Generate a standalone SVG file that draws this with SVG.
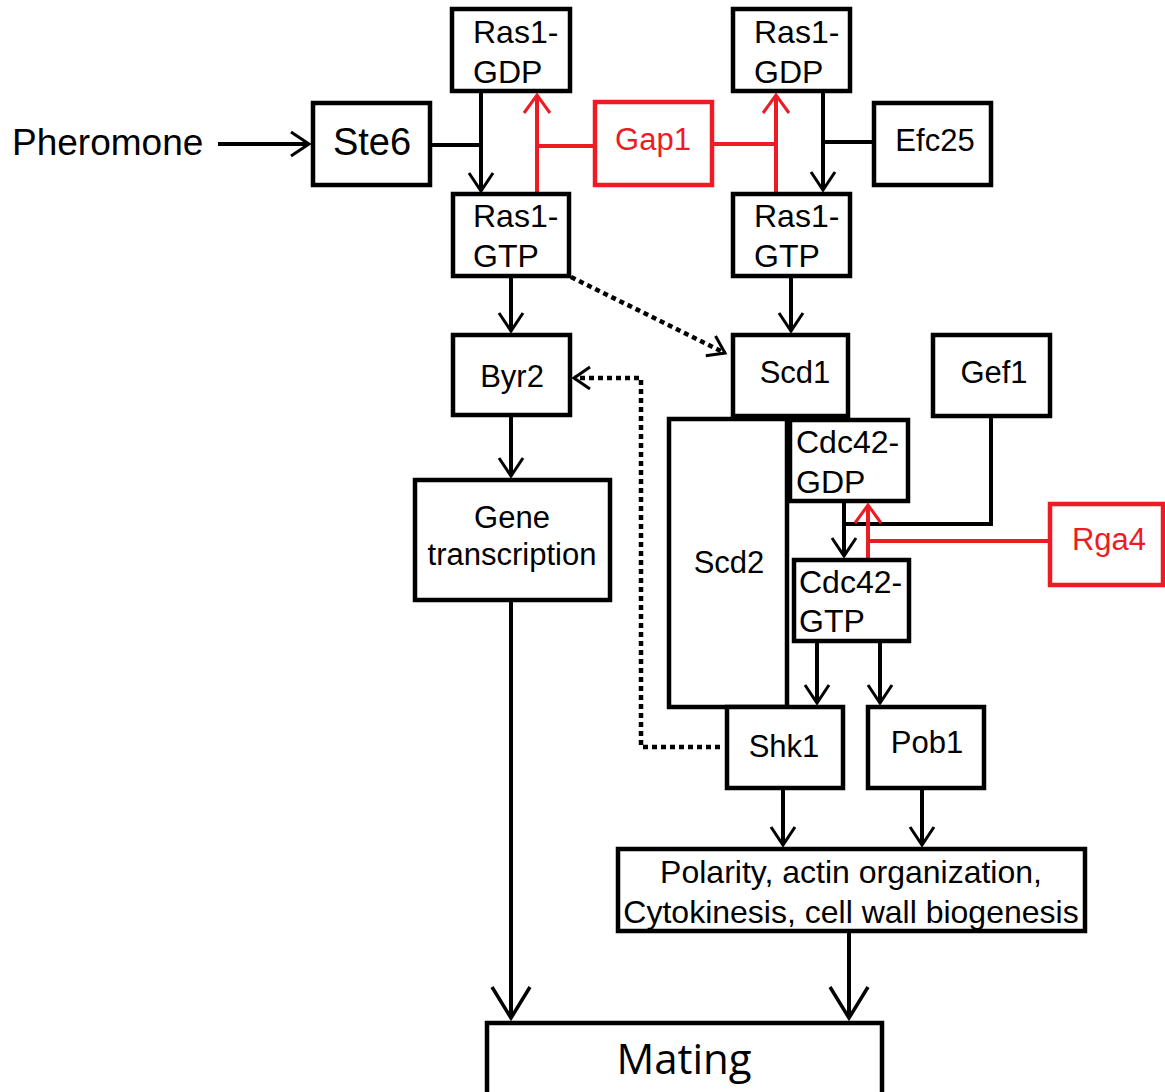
<svg xmlns="http://www.w3.org/2000/svg" width="1165" height="1092" viewBox="0 0 1165 1092">
<style>
  .box{fill:#fff;stroke:#000;stroke-width:4.5}
  .rbox{fill:#fff;stroke:#ED1C24;stroke-width:4.5}
  .t{font-family:"Liberation Sans",Arial,sans-serif;font-size:31px;fill:#000}
  .c{text-anchor:middle}
  .red{fill:#ED1C24}
  .ln{fill:none;stroke:#000;stroke-width:4}
  .rln{fill:none;stroke:#ED1C24;stroke-width:4}
  .dot{fill:none;stroke:#000;stroke-width:4.5;stroke-dasharray:5 4}
</style>
<defs>
  <marker id="ah" markerUnits="userSpaceOnUse" orient="auto" overflow="visible" refX="0" refY="0" markerWidth="20" markerHeight="30">
    <path d="M-18,-12 L0,0 L-18,12" fill="none" stroke="#000" stroke-width="3"/>
  </marker>
  <marker id="ahL" markerUnits="userSpaceOnUse" orient="auto" overflow="visible" refX="0" refY="0" markerWidth="34" markerHeight="40">
    <path d="M-31,-19 L0,0 L-31,19" fill="none" stroke="#000" stroke-width="3.5"/>
  </marker>
  <marker id="ahR" markerUnits="userSpaceOnUse" orient="auto" overflow="visible" refX="0" refY="0" markerWidth="20" markerHeight="30">
    <path d="M-18,-13 L0,0 L-18,13" fill="none" stroke="#ED1C24" stroke-width="3"/>
  </marker>
  <marker id="ahS" markerUnits="userSpaceOnUse" orient="auto" overflow="visible" refX="0" refY="0" markerWidth="20" markerHeight="30">
    <path d="M-16,-11 L0,0 L-16,11" fill="none" stroke="#000" stroke-width="3"/>
  </marker>
</defs>

<g id="connectors">
  <line class="ln" x1="218" y1="144" x2="309" y2="144" marker-end="url(#ah)"/>
  <line class="ln" x1="432" y1="145" x2="481" y2="145"/>
  <line class="ln" x1="481" y1="93" x2="481" y2="191" marker-end="url(#ah)"/>
  <line class="rln" x1="593" y1="146" x2="537" y2="146"/>
  <line class="rln" x1="537" y1="193" x2="537" y2="95" marker-end="url(#ahR)"/>
  <line class="rln" x1="714" y1="144" x2="776" y2="144"/>
  <line class="rln" x1="776" y1="193" x2="776" y2="95" marker-end="url(#ahR)"/>
  <line class="ln" x1="823" y1="93" x2="823" y2="190" marker-end="url(#ah)"/>
  <line class="ln" x1="872" y1="142" x2="823" y2="142"/>
  <line class="ln" x1="511" y1="277" x2="511" y2="331" marker-end="url(#ah)"/>
  <line class="dot" x1="571" y1="277" x2="725" y2="353" marker-end="url(#ahS)"/>
  <line class="ln" x1="791" y1="277" x2="791" y2="331" marker-end="url(#ah)"/>
  <line class="ln" x1="511" y1="417" x2="511" y2="476" marker-end="url(#ah)"/>
  <polyline class="dot" points="720,747 641,747 641,378 574,378" marker-end="url(#ahS)"/>
  <polyline class="ln" points="991,418 991,524 844,524"/>
  <line class="ln" x1="844" y1="503" x2="844" y2="556" marker-end="url(#ah)"/>
  <line class="rln" x1="1048" y1="541" x2="868" y2="541"/>
  <line class="rln" x1="868" y1="558" x2="868" y2="505" marker-end="url(#ahR)"/>
  <line class="ln" x1="817" y1="643" x2="817" y2="703" marker-end="url(#ah)"/>
  <line class="ln" x1="880" y1="643" x2="880" y2="703" marker-end="url(#ah)"/>
  <line class="ln" x1="783" y1="790" x2="783" y2="845" marker-end="url(#ah)"/>
  <line class="ln" x1="922" y1="790" x2="922" y2="845" marker-end="url(#ah)"/>
  <line class="ln" x1="849" y1="933" x2="849" y2="1018" marker-end="url(#ahL)"/>
  <line class="ln" x1="511" y1="602" x2="511" y2="1018" marker-end="url(#ahL)"/>
</g>

<g id="pheromone"><text class="t" x="12" y="155" style="font-size:37px">Pheromone</text></g>
<g id="ste6"><rect class="box" x="313" y="103" width="117" height="82"/><text class="t c" x="372" y="155" style="font-size:38px">Ste6</text></g>
<g id="ras1gdp-left"><rect class="box" x="452" y="9" width="118" height="82"/><text class="t" x="473" y="43" style="font-size:32px">Ras1-</text><text class="t" x="473" y="83" style="font-size:32px">GDP</text></g>
<g id="ras1gtp-left"><rect class="box" x="453" y="194" width="116" height="82"/><text class="t" x="473" y="227" style="font-size:32px">Ras1-</text><text class="t" x="473" y="267" style="font-size:32px">GTP</text></g>
<g id="gap1"><rect class="rbox" x="595" y="102" width="117" height="83"/><text class="t c red" x="653" y="150">Gap1</text></g>
<g id="ras1gdp-right"><rect class="box" x="733" y="9" width="117" height="82"/><text class="t" x="754" y="43" style="font-size:32px">Ras1-</text><text class="t" x="754" y="83" style="font-size:32px">GDP</text></g>
<g id="ras1gtp-right"><rect class="box" x="733" y="194" width="117" height="82"/><text class="t" x="754" y="227" style="font-size:32px">Ras1-</text><text class="t" x="754" y="267" style="font-size:32px">GTP</text></g>
<g id="efc25"><rect class="box" x="874" y="103" width="117" height="82"/><text class="t c" x="935" y="151">Efc25</text></g>
<g id="byr2"><rect class="box" x="453" y="335" width="117" height="80"/><text class="t c" x="512" y="387">Byr2</text></g>
<g id="scd1"><rect class="box" x="733" y="335" width="115" height="81"/><text class="t c" x="795" y="383">Scd1</text></g>
<g id="gef1"><rect class="box" x="933" y="335" width="117" height="81"/><text class="t c" x="994" y="383">Gef1</text></g>
<g id="gene-transcription"><rect class="box" x="415" y="480" width="195" height="120"/><text class="t c" x="512" y="528">Gene</text><text class="t c" x="512" y="565">transcription</text></g>
<g id="scd2"><rect class="box" x="669" y="419" width="118" height="288"/><text class="t c" x="729" y="573">Scd2</text></g>
<g id="cdc42gdp"><rect class="box" x="790" y="420" width="118" height="81"/><text class="t" x="796" y="453" style="font-size:32px">Cdc42-</text><text class="t" x="796" y="493" style="font-size:32px">GDP</text></g>
<g id="cdc42gtp"><rect class="box" x="794" y="560" width="115" height="81"/><text class="t" x="799" y="593" style="font-size:32px">Cdc42-</text><text class="t" x="799" y="632" style="font-size:32px">GTP</text></g>
<g id="rga4"><rect class="rbox" x="1050" y="504" width="113" height="81"/><text class="t c red" x="1109" y="550">Rga4</text></g>
<g id="shk1"><rect class="box" x="727" y="707" width="116" height="81"/><text class="t c" x="784" y="757">Shk1</text></g>
<g id="pob1"><rect class="box" x="868" y="707" width="116" height="81"/><text class="t c" x="927" y="753">Pob1</text></g>
<g id="polarity"><rect class="box" x="618" y="849" width="467" height="82"/><text class="t c" x="851" y="883" style="font-size:32px">Polarity, actin organization,</text><text class="t c" x="851" y="923" style="font-size:32px">Cytokinesis, cell wall biogenesis</text></g>
<g id="mating"><rect class="box" x="487" y="1023" width="395" height="80"/><text class="c" x="684" y="1074" style="font-family:'Open Sans','Noto Sans',sans-serif;font-size:42px;fill:#000">Mating</text></g>
</svg>
